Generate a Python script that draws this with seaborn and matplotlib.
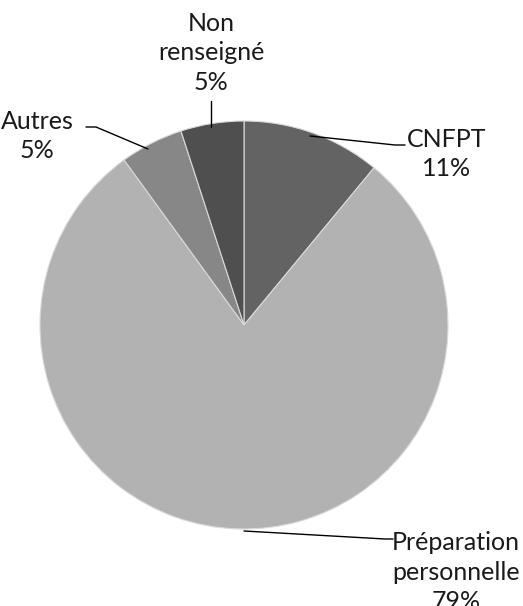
import matplotlib
matplotlib.use("Agg")
import matplotlib.pyplot as plt
import seaborn as sns

# data
categories = ["CNFPT", "Préparation\npersonnelle", "Autres", "Non\nrenseigné"]
percents = [11, 79, 5, 5]
colors = ["#636363", "#b2b2b2", "#878787", "#4f4f4f"]

sns.set_theme(style="white")
plt.rcParams["font.family"] = ["Lato", "DejaVu Sans"]

W, H = 523, 606
fig = plt.figure(figsize=(W / 100, H / 100), dpi=100)
ax = fig.add_axes([0, 0, 1, 1])

cx, cy, r = 244, H - 325, 204
wedges, _ = ax.pie(percents, colors=colors, startangle=90, counterclock=False,
                   center=(cx, cy), radius=r, frame=True,
                   wedgeprops=dict(edgecolor="#d9d9d9", linewidth=0.8))
ax.set_xlim(0, W)
ax.set_ylim(0, H)
ax.set_aspect("equal")
ax.axis("off")

# label text position and leader line (pixel coords, y from top)
label_pos = [(447, 154), (456, 572), (37, 136), (211, 53)]
leaders = [
    [(310, 136), (395, 145), (405, 145)],
    [(244, 531), (385, 539), (393, 539)],
    [(148, 149), (96, 127), (86, 127)],
    [(211, 127), (211, 101)],
]

for name, pct, (tx, ty), pts in zip(categories, percents, label_pos, leaders):
    ax.text(tx, H - ty, f"{name}\n{pct}%", ha="center", va="center",
            fontsize=18, color="#1a1a1a", linespacing=1.32)
    xs = [p[0] for p in pts]
    ys = [H - p[1] for p in pts]
    ax.plot(xs, ys, color="black", lw=1)

fig.savefig("out.png", dpi=100)
